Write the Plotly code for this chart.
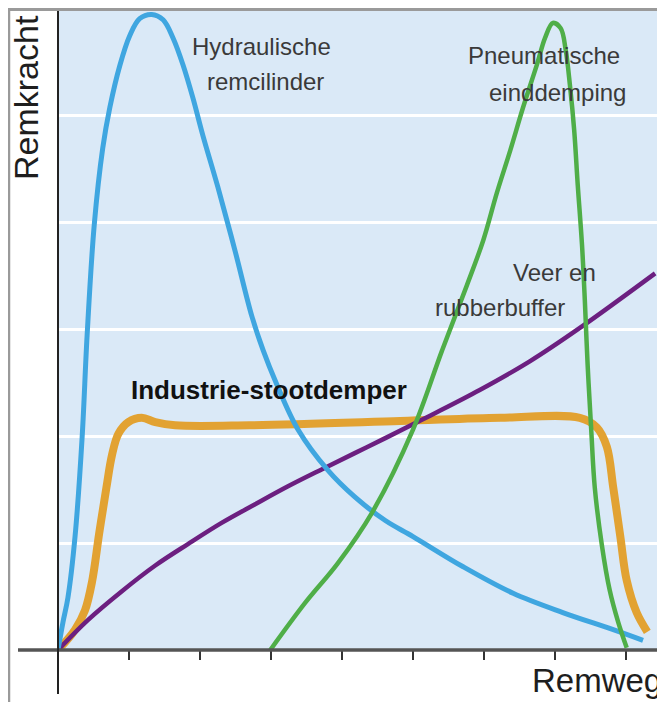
import plotly.graph_objects as go

# ---- data (x = Remweg in tick units, y = Remkracht in gridline units) ----
hydr_x = [0, 0.07, 0.14, 0.24, 0.34, 0.41, 0.51, 0.63, 0.73, 0.87, 1.01, 1.15, 1.32, 1.48, 1.62,
          1.76, 1.90, 2.04, 2.25, 2.49, 2.73, 2.89, 3.07, 3.38, 3.80, 4.18, 4.61, 5.00, 5.70,
          6.41, 7.11, 7.82, 8.24]
hydr_y = [0, 0.26, 0.49, 1.06, 1.99, 2.94, 3.97, 4.69, 5.07, 5.46, 5.74, 5.90, 5.94, 5.89, 5.72,
          5.47, 5.16, 4.81, 4.33, 3.74, 3.12, 2.80, 2.50, 2.06, 1.68, 1.43, 1.21, 1.06, 0.78,
          0.53, 0.35, 0.19, 0.09]

ind_x = [0, 0.24, 0.38, 0.48, 0.58, 0.68, 0.76, 0.85, 0.99, 1.18, 1.37, 1.65, 2.70, 4.82, 6.23,
         7.35, 7.59, 7.73, 7.82, 7.92, 8.01, 8.15, 8.30]
ind_y = [0, 0.19, 0.37, 0.64, 1.09, 1.51, 1.82, 2.02, 2.13, 2.17, 2.13, 2.10, 2.10, 2.14, 2.17,
         2.17, 2.08, 1.90, 1.52, 1.06, 0.65, 0.35, 0.17]

veer_x = [0, 0.42, 0.90, 1.37, 1.83, 2.31, 2.77, 3.24, 3.72, 4.18, 4.61, 5.24, 5.94, 6.65, 7.35, 8.41]
veer_y = [0, 0.28, 0.55, 0.79, 0.99, 1.19, 1.36, 1.53, 1.69, 1.84, 1.98, 2.19, 2.43, 2.70, 3.01, 3.52]

pneu_x = [2.99, 3.48, 3.94, 4.42, 5.00, 5.41, 5.76, 5.99, 6.18, 6.37, 6.55, 6.75, 6.86, 6.97,
          7.08, 7.15, 7.21, 7.27, 7.32, 7.38, 7.42, 7.46, 7.51, 7.56, 7.66, 7.77, 7.89, 8.01]
pneu_y = [0, 0.44, 0.81, 1.28, 2.06, 2.80, 3.41, 3.83, 4.27, 4.67, 5.07, 5.48, 5.72, 5.86,
          5.81, 5.61, 5.28, 4.86, 4.35, 3.79, 3.27, 2.66, 2.06, 1.52, 0.98, 0.56, 0.26, 0.02]

x_ticks = [1, 2, 3, 4, 5, 6, 7, 8]
grid_levels = [1, 2, 3, 4, 5]

# ---- layout helpers (page pixel -> paper); the page body has an 8px margin ----
OFF = 8
W, H = 665 - OFF, 702 - OFF
L, T = 58 - OFF, 10 - OFF
R, B = 665 - 658, 702 - 650
PW, PH = W - L - R, H - T - B


def px(xp):
    return (xp - 58) / PW


def py(yp):
    return (650 - yp) / PH


SM = 1.0
fig = go.Figure()
fig.add_trace(go.Scatter(x=ind_x, y=ind_y, mode="lines",
                         line=dict(color="#E2A232", width=8, shape="spline", smoothing=SM),
                         hoverinfo="skip"))
fig.add_trace(go.Scatter(x=veer_x, y=veer_y, mode="lines",
                         line=dict(color="#6C1F80", width=4.5, shape="spline", smoothing=SM),
                         hoverinfo="skip"))
fig.add_trace(go.Scatter(x=hydr_x, y=hydr_y, mode="lines",
                         line=dict(color="#3FA6E0", width=5, shape="spline", smoothing=SM),
                         hoverinfo="skip"))
fig.add_trace(go.Scatter(x=pneu_x, y=pneu_y, mode="lines",
                         line=dict(color="#4FAE48", width=4.5, shape="spline", smoothing=SM),
                         hoverinfo="skip"))

font_lbl = "Liberation Sans, Arial, sans-serif"
lbl_color = "#3a3a3a"
labels = [
    ("Hydraulische", 261, 46, 24),
    ("remcilinder", 265, 81, 24),
    ("Pneumatische", 544, 55, 24),
    ("einddemping", 557, 93, 24),
    ("Veer en", 554, 272, 24),
    ("rubberbuffer", 500, 307, 24),
]
ann = []
for txt, xx, yy, fs in labels:
    ann.append(dict(text=txt, xref="paper", yref="paper", x=px(xx), y=py(yy),
                    xanchor="center", yanchor="middle", showarrow=False,
                    font=dict(family=font_lbl, size=fs, color=lbl_color)))
ann.append(dict(text="<b>Industrie-stootdemper</b>", xref="paper", yref="paper",
                x=px(269), y=py(390), xanchor="center", yanchor="middle", showarrow=False,
                font=dict(family=font_lbl, size=26, color="#111")))
ann.append(dict(text="Remkracht", xref="paper", yref="paper", x=px(26), y=py(98),
                xanchor="center", yanchor="middle", textangle=-90, showarrow=False,
                font=dict(family=font_lbl, size=34, color="#1e1e1e")))
ann.append(dict(text="Remweg", xref="paper", yref="paper", x=px(664), y=py(680),
                xanchor="right", yanchor="middle", showarrow=False,
                font=dict(family=font_lbl, size=33, color="#1e1e1e")))

shapes = [
    # outer frame (top and left)
    dict(type="line", xref="paper", yref="paper", x0=px(8), x1=px(666), y0=py(9.5), y1=py(9.5),
         line=dict(color="#9a9a9a", width=3), layer="above"),
    dict(type="line", xref="paper", yref="paper", x0=px(9), x1=px(9), y0=py(8), y1=py(703),
         line=dict(color="#9a9a9a", width=2.5), layer="above"),
    # x axis line
    dict(type="line", xref="paper", yref="paper", x0=px(18), x1=px(666), y0=0, y1=0,
         line=dict(color="#555555", width=3.5), layer="above"),
    # y axis line
    dict(type="line", xref="paper", yref="paper", x0=0, x1=0, y0=py(11), y1=py(694),
         line=dict(color="#222222", width=2), layer="above"),
]

fig.update_layout(
    width=W, height=H,
    margin=dict(l=L, r=R, t=T, b=B),
    paper_bgcolor="white",
    plot_bgcolor="#DAE9F7",
    showlegend=False,
    annotations=ann,
    shapes=shapes,
    xaxis=dict(range=[0, PW / 71], showgrid=False, zeroline=False, showline=False,
               tickvals=x_ticks, ticks="outside", ticklen=9, tickwidth=2, tickcolor="#333",
               showticklabels=False, fixedrange=True),
    yaxis=dict(range=[0, PH / 107], tickvals=grid_levels, showgrid=True, gridcolor="white",
               gridwidth=3, zeroline=False, showline=False, ticks="", showticklabels=False,
               fixedrange=True),
)

fig.write_html("out.html", config={"displayModeBar": False})
